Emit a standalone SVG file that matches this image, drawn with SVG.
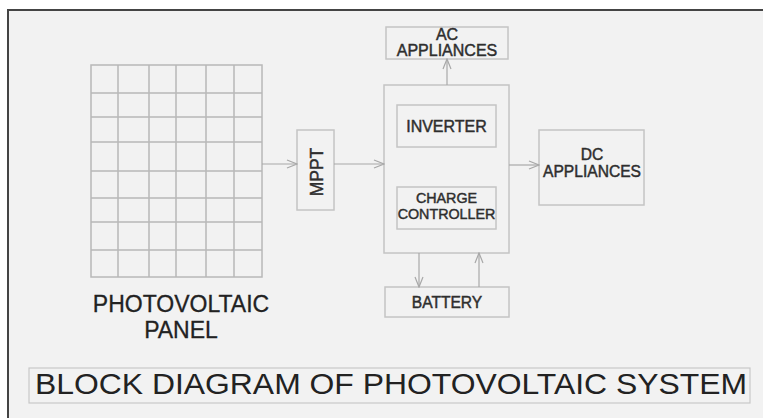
<svg xmlns="http://www.w3.org/2000/svg" width="763" height="418" viewBox="0 0 763 418">
  <defs>
    <marker id="arr" viewBox="0 0 12 10" refX="11" refY="5" markerWidth="12" markerHeight="10" markerUnits="userSpaceOnUse" orient="auto">
      <path d="M1,1 L11,5 L1,9" fill="none" stroke="#a8a8a8" stroke-width="1.2"/>
    </marker>
  </defs>
  <style>
    .box{fill:none;stroke:#c4c4c4;stroke-width:1.5}
    .grid{stroke:#b8b8b8;stroke-width:1.5;fill:none}
    .lbl{font-family:"Liberation Sans",Arial,sans-serif;fill:#2e2e2e;stroke:#2e2e2e;stroke-width:0.45;text-anchor:middle}
    .big{font-family:"Liberation Sans",Arial,sans-serif;fill:#222;text-anchor:middle}
    .conn{stroke:#a8a8a8;stroke-width:1.2;fill:none;marker-end:url(#arr)}
  </style>
  <rect x="0" y="0" width="763" height="418" fill="#ffffff"/>
  <rect x="8" y="10" width="760" height="412" fill="#f2f2f2"/>
  <path d="M8,418 L8,10 L763,10" fill="none" stroke="#444" stroke-width="2"/>

  <g id="pv-panel">
    <rect class="grid" x="91" y="65" width="171" height="212"/>
    <path class="grid" d="M118,65V277M149,65V277M176,65V277M206,65V277M234,65V277M91,93H262M91,117H262M91,142H262M91,171H262M91,198H262M91,222H262M91,250H262"/>
    <text class="big" x="181" y="312" font-size="23" stroke="#222" stroke-width="0.3">PHOTOVOLTAIC</text>
    <text class="big" x="181" y="338" font-size="23" stroke="#222" stroke-width="0.3">PANEL</text>
  </g>

  <g id="mppt">
    <rect class="box" x="297" y="130" width="37" height="80"/>
    <text class="lbl" x="0" y="0" font-size="17.5" stroke-width="0.7" transform="translate(323,172) rotate(-90)">MPPT</text>
  </g>

  <g id="controller-block">
    <rect class="box" x="384" y="85" width="125" height="168"/>
  </g>

  <g id="inverter">
    <rect class="box" x="397" y="105" width="99" height="42"/>
    <text class="lbl" x="446.5" y="132" font-size="16">INVERTER</text>
  </g>

  <g id="charge-controller">
    <rect class="box" x="397" y="187" width="99" height="42"/>
    <text class="lbl" x="446.5" y="203" font-size="14.3">CHARGE</text>
    <text class="lbl" x="446.5" y="219" font-size="14.3">CONTROLLER</text>
  </g>

  <g id="ac-appliances">
    <rect class="box" x="386" y="27" width="122" height="32"/>
    <text class="lbl" x="447" y="40" font-size="16">AC</text>
    <text class="lbl" x="447" y="56" font-size="16">APPLIANCES</text>
  </g>

  <g id="dc-appliances">
    <rect class="box" x="539" y="130" width="105" height="75"/>
    <text class="lbl" x="592" y="160" font-size="15.6">DC</text>
    <text class="lbl" x="592" y="177" font-size="15.6">APPLIANCES</text>
  </g>

  <g id="battery">
    <rect class="box" x="385" y="287" width="124" height="30"/>
    <text class="lbl" x="447" y="308" font-size="15.6">BATTERY</text>
  </g>

  <g id="title">
    <rect x="29" y="368" width="721" height="35" fill="none" stroke="#c8c8c8" stroke-width="1.2"/>
    <text class="big" x="391" y="394" font-size="30" textLength="712" lengthAdjust="spacingAndGlyphs">BLOCK DIAGRAM OF PHOTOVOLTAIC SYSTEM</text>
  </g>

  <g id="connectors">
    <line class="conn" x1="262" y1="164" x2="297" y2="164"/>
    <line class="conn" x1="334" y1="164" x2="384" y2="164"/>
    <line class="conn" x1="447" y1="85" x2="447" y2="59"/>
    <line class="conn" x1="509" y1="165" x2="539" y2="165"/>
    <line class="conn" x1="419" y1="253" x2="419" y2="287"/>
    <line class="conn" x1="479" y1="287" x2="479" y2="253"/>
  </g>
</svg>
